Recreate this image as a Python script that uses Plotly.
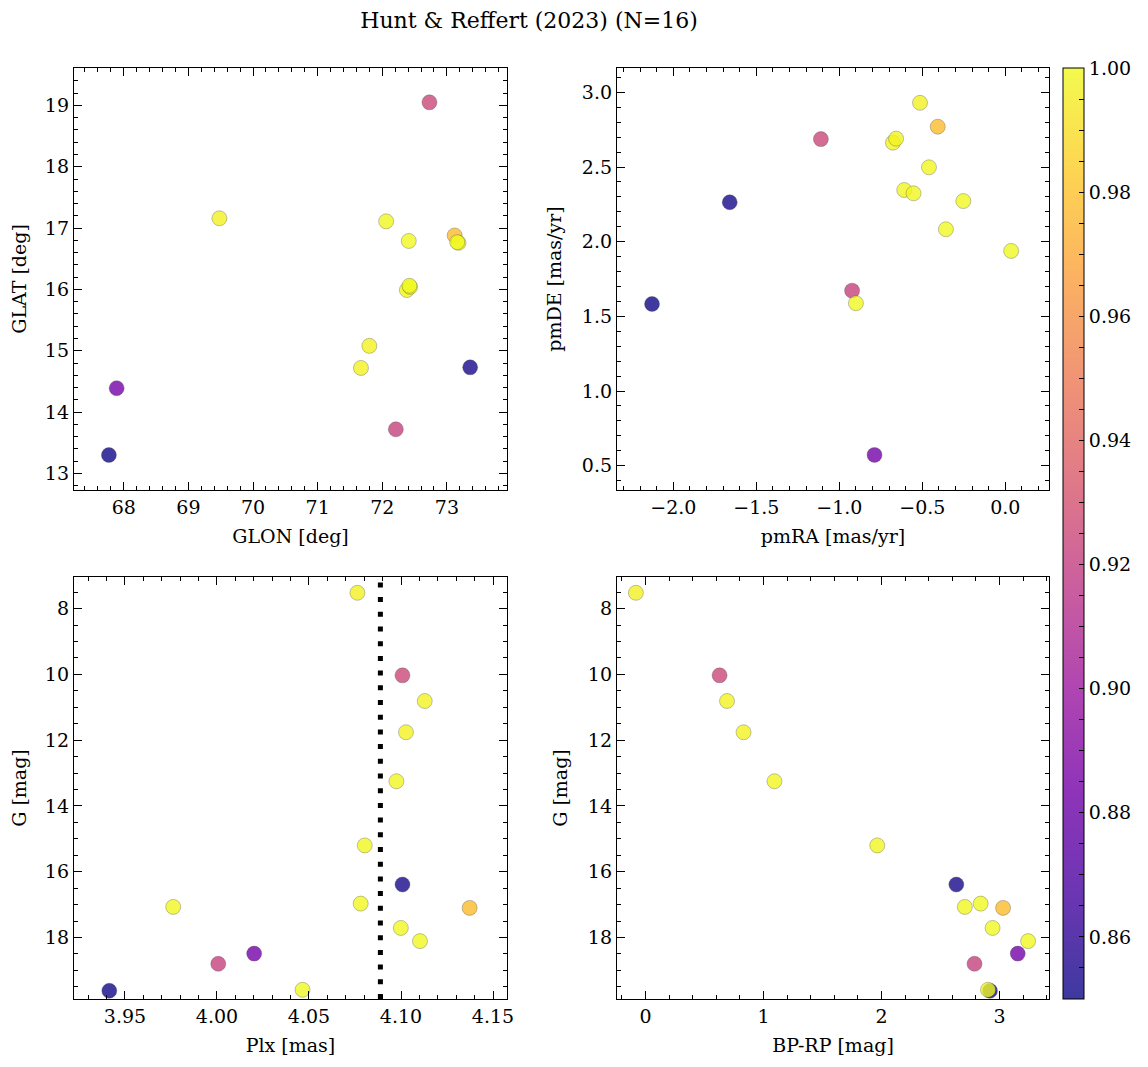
import plotly.graph_objects as go
import plotly.colors as pc

TITLE = "Hunt & Reffert (2023) (N=16)"

# cluster members, sorted by membership probability (best ones drawn last)
prob = [0.851, 0.853, 0.884, 0.922, 0.925, 0.978, 0.997, 0.998, 0.998, 0.999,
        0.999, 0.999, 1.000, 1.000, 1.000, 1.000]
glon = [67.77, 73.36, 67.89, 72.21, 72.73, 73.12, 69.48, 71.67, 71.80, 72.06,
        72.38, 72.43, 72.41, 73.18, 73.16, 72.42]
glat = [13.30, 14.73, 14.39, 13.72, 19.05, 16.88, 17.16, 14.72, 15.08, 17.11,
        15.99, 16.04, 16.79, 16.76, 16.77, 16.06]
pmra = [-2.128, -1.660, -0.788, -0.923, -1.111, -0.407, -0.514, -0.677, -0.658, -0.609,
        -0.553, -0.460, -0.358, -0.253, 0.035, -0.900]
pmde = [1.583, 2.264, 0.572, 1.672, 2.687, 2.770, 2.930, 2.663, 2.690, 2.346,
        2.324, 2.498, 2.083, 2.272, 1.938, 1.588]
plx = [3.9415, 4.1008, 4.0202, 4.0007, 4.1008, 4.1373, 4.0763, 4.1129, 4.1027, 4.0975,
       4.0803, 3.9762, 4.0781, 4.0999, 4.1103, 4.0465]
gmag = [19.62, 16.39, 18.49, 18.80, 10.03, 17.10, 7.52, 10.81, 11.76, 13.25,
        15.20, 17.07, 16.97, 17.71, 18.11, 19.59]
bprp = [2.919, 2.634, 3.154, 2.788, 0.628, 3.030, -0.081, 0.691, 0.831, 1.093,
        1.964, 2.706, 2.840, 2.941, 3.242, 2.902]

PLX_MEAN = 4.0888
PROB_MIN, PROB_MAX = 0.85, 1.00

FONT = "DejaVu Serif"
FS = 19
ALPHA = 0.8

# plasma with alpha, like matplotlib's alpha=0.8 scatter
plasma = pc.sequential.Plasma
n = len(plasma)
cscale = []
for k, c in enumerate(plasma):
    r, g, b = pc.hex_to_rgb(c)
    cscale.append([k / (n - 1), f"rgba({r},{g},{b},{ALPHA})"])

fig = go.Figure()

panels = [
    ("x", "y", glon, glat),
    ("x2", "y2", pmra, pmde),
    ("x3", "y3", plx, gmag),
    ("x4", "y4", bprp, gmag),
]
for xa, ya, xs, ys in panels:
    fig.add_trace(go.Scatter(
        x=xs, y=ys, mode="markers", xaxis=xa, yaxis=ya, showlegend=False,
        marker=dict(size=15, color=prob, coloraxis="coloraxis",
                    line=dict(width=0.6, color="rgba(70,70,70,0.55)")),
    ))

# page body adds 8px margin, so lay things out in a frame shifted by that
W, H = 1148, 1067
OFF = 8
xl = [(74 - OFF) / W, (507 - OFF) / W]
xr = [(617 - OFF) / W, (1049 - OFF) / W]
yt = [1 - (490 - OFF) / H, 1 - (68 - OFF) / H]
yb = [1 - (999 - OFF) / H, 1 - (577 - OFF) / H]


def ax(domain, rng, dtick, minor, title, anchor, standoff, fmt=None, reverse=False):
    d = dict(
        domain=domain, range=rng[::-1] if reverse else rng, anchor=anchor,
        dtick=dtick, tick0=0, ticks="inside", ticklen=7.5, tickwidth=1.2, tickcolor="black",
        minor=dict(dtick=minor, ticks="inside", ticklen=4, tickwidth=1, tickcolor="black"),
        showline=True, linecolor="black", linewidth=1.3, mirror="allticks",
        showgrid=False, zeroline=False, automargin=False,
        tickfont=dict(family=FONT, size=FS, color="black"),
        title=dict(text=title, font=dict(family=FONT, size=FS, color="black"), standoff=standoff),
    )
    if fmt:
        d["tickformat"] = fmt
    return d


fig.update_layout(
    width=W, height=H,
    margin=dict(l=0, r=0, t=0, b=0, autoexpand=False),
    paper_bgcolor="white", plot_bgcolor="white",
    font=dict(family=FONT, color="black"),
    title=dict(text=TITLE, x=(529 - OFF) / W, xanchor="center", y=1 - (20 - OFF) / H, yanchor="middle",
               font=dict(family=FONT, size=22, color="black")),
    xaxis=ax(xl, [67.23, 73.93], 1, 0.2, "GLON [deg]", "y", 12),
    yaxis=ax(yt, [12.73, 19.61], 1, 0.2, "GLAT [deg]", "x", 15),
    xaxis2=ax(xr, [-2.339, 0.263], 0.5, 0.1, "pmRA [mas/yr]", "y2", 12, ".1f"),
    yaxis2=ax(yt, [0.337, 3.163], 0.5, 0.1, "pmDE [mas/yr]", "x2", 15, ".1f"),
    xaxis3=ax(xl, [3.9223, 4.1576], 0.05, 0.01, "Plx [mas]", "y3", 12, ".2f"),
    yaxis3=ax(yb, [7.04, 19.87], 2, 0.5, "G [mag]", "x3", 15, reverse=True),
    xaxis4=ax(xr, [-0.241, 3.419], 1, 0.2, "BP-RP [mag]", "y4", 12),
    yaxis4=ax(yb, [7.04, 19.87], 2, 0.5, "G [mag]", "x4", 15, reverse=True),
    coloraxis=dict(
        colorscale=cscale, cmin=PROB_MIN, cmax=PROB_MAX,
        colorbar=dict(
            x=(1063 - OFF) / W, xanchor="left",
            y=1 - ((68 + 999) / 2 - OFF) / H, yanchor="middle", xpad=0, ypad=0,
            len=(999 - 68) / H, lenmode="fraction", thickness=21, thicknessmode="pixels",
            outlinewidth=1, outlinecolor="black",
            tickmode="array",
            tickvals=[round(0.85 + 0.005 * k, 3) for k in range(31)],
            ticktext=[f"{0.85 + 0.005 * k:.2f}" if k % 4 == 2 else "" for k in range(31)],
            ticks="inside", ticklen=5, tickwidth=1, tickcolor="black",
            tickfont=dict(family=FONT, size=FS, color="black"),
        ),
    ),
)

# mean cluster parallax
fig.add_shape(type="line", xref="x3", yref="y3 domain", x0=PLX_MEAN, x1=PLX_MEAN, y0=0, y1=1,
              line=dict(color="black", width=5, dash="5px,9.7px"))

fig.write_html("out.html")
